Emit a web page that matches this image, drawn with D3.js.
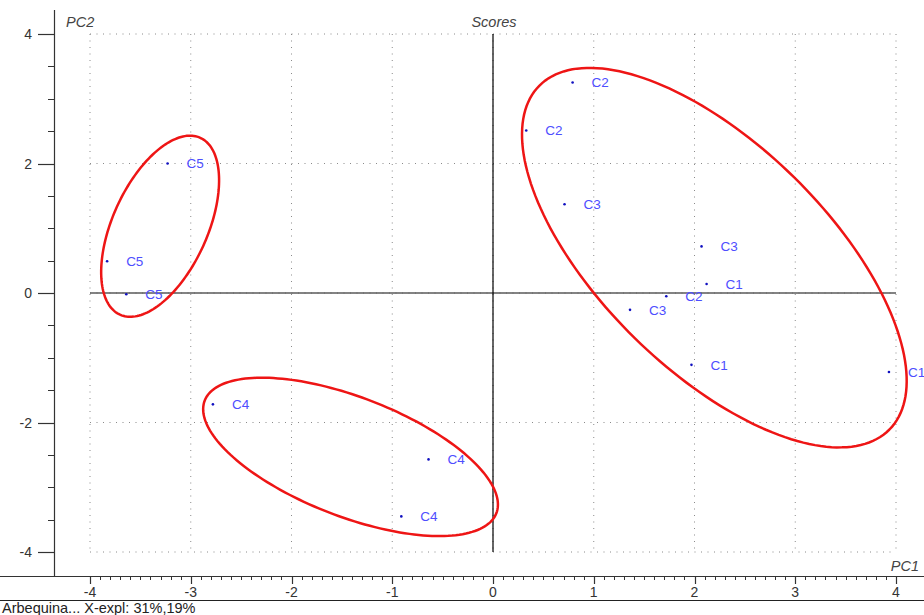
<!DOCTYPE html>
<html>
<head>
<meta charset="utf-8">
<script src="https://cdn.jsdelivr.net/npm/d3@7"></script>
<style>
  body { margin: 0; background: #fff; }
  svg { display: block; font-family: "Liberation Sans", Arial, sans-serif; }
</style>
</head>
<body>
<div id="chart"></div>
<script>
// score points (PC1, PC2) and their class labels
const pointLabels = ['C2', 'C2', 'C3', 'C3', 'C1', 'C2', 'C3', 'C1', 'C1', 'C5', 'C5', 'C5', 'C4', 'C4', 'C4'];
const pc1Values = [0.79, 0.33, 0.71, 2.07, 2.12, 1.72, 1.36, 1.97, 3.93, -3.23, -3.83, -3.64, -2.78, -0.64, -0.91];
const pc2Values = [3.25, 2.51, 1.37, 0.72, 0.14, -0.05, -0.26, -1.11, -1.22, 2.0, 0.49, -0.02, -1.72, -2.57, -3.45];

// group ellipses: centre, and the two half-axis vectors, all in PC units
const ellipseCenters = [[2.197, 0.546], [-3.304, 1.031], [-1.414, -2.531]];
const ellipseMajor = [[1.738, -2.654], [0.398, 1.366], [1.447, -0.871]];
const ellipseMinor = [[-0.790, -1.243], [0.429, -0.300], [-0.215, -0.858]];

const xTicks = [-4, -3, -2, -1, 0, 1, 2, 3, 4];
const yTicks = [-4, -2, 0, 2, 4];

const width = 924, height = 615;

const svg = d3.select('#chart').append('svg')
  .attr('width', width)
  .attr('height', height);

const x = d3.scaleLinear().domain([-4, 4]).range([90, 896]);
const y = d3.scaleLinear().domain([-4, 4]).range([552, 34]);

const gridColor = '#8a8a8a';
const axisColor = '#333';

// dotted grid
svg.append('g').selectAll('line').data(xTicks)
  .join('line')
  .attr('x1', d => x(d)).attr('x2', d => x(d))
  .attr('y1', y(4)).attr('y2', y(-4))
  .attr('stroke', gridColor).attr('stroke-width', 1)
  .attr('stroke-dasharray', '1,5.5');
svg.append('g').selectAll('line').data(yTicks)
  .join('line')
  .attr('x1', x(-4)).attr('x2', x(4))
  .attr('y1', d => y(d)).attr('y2', d => y(d))
  .attr('stroke', gridColor).attr('stroke-width', 1)
  .attr('stroke-dasharray', '1,5.5');

// zero lines
svg.append('line')
  .attr('x1', x(-4)).attr('x2', x(4)).attr('y1', y(0)).attr('y2', y(0))
  .attr('stroke', '#5a5a5a').attr('stroke-width', 1.6);
svg.append('line')
  .attr('x1', x(0)).attr('x2', x(0)).attr('y1', y(4)).attr('y2', y(-4))
  .attr('stroke', '#000').attr('stroke-width', 1.2);

// axes frame
const axisY = 576, axisX = 54;
svg.append('line')
  .attr('x1', 0).attr('x2', width).attr('y1', axisY + 0.5).attr('y2', axisY + 0.5)
  .attr('stroke', axisColor).attr('stroke-width', 1.2);
svg.append('line')
  .attr('x1', 0).attr('x2', width).attr('y1', 600.5).attr('y2', 600.5)
  .attr('stroke', '#222').attr('stroke-width', 1.2);
svg.append('line')
  .attr('x1', axisX + 0.5).attr('x2', axisX + 0.5).attr('y1', 10).attr('y2', axisY)
  .attr('stroke', axisColor).attr('stroke-width', 1.2);

// x axis ticks
const xAxis = svg.append('g');
xAxis.selectAll('line.minor').data(d3.range(-40, 41).map(d => d / 10))
  .join('line').attr('class', 'minor')
  .attr('x1', d => Math.round(x(d)) + 0.5).attr('x2', d => Math.round(x(d)) + 0.5)
  .attr('y1', axisY).attr('y2', axisY + 4)
  .attr('stroke', axisColor);
xAxis.selectAll('line.major').data(xTicks)
  .join('line').attr('class', 'major')
  .attr('x1', d => Math.round(x(d)) + 0.5).attr('x2', d => Math.round(x(d)) + 0.5)
  .attr('y1', axisY).attr('y2', axisY + 8)
  .attr('stroke', axisColor).attr('stroke-width', 1.2);
xAxis.selectAll('text').data(xTicks)
  .join('text')
  .attr('x', d => x(d)).attr('y', 597)
  .attr('text-anchor', 'middle')
  .attr('font-size', 14).attr('fill', axisColor)
  .text(d => d);

// y axis ticks
const yAxis = svg.append('g');
yAxis.selectAll('line.minor').data(d3.range(-8, 9).map(d => d / 2))
  .join('line').attr('class', 'minor')
  .attr('x1', axisX - 6).attr('x2', axisX)
  .attr('y1', d => Math.round(y(d)) + 0.5).attr('y2', d => Math.round(y(d)) + 0.5)
  .attr('stroke', axisColor);
yAxis.selectAll('line.major').data(yTicks)
  .join('line').attr('class', 'major')
  .attr('x1', axisX - 16).attr('x2', axisX)
  .attr('y1', d => Math.round(y(d)) + 0.5).attr('y2', d => Math.round(y(d)) + 0.5)
  .attr('stroke', axisColor).attr('stroke-width', 1.2);
yAxis.selectAll('text').data(yTicks)
  .join('text')
  .attr('x', 32).attr('y', d => y(d))
  .attr('dy', '0.36em')
  .attr('text-anchor', 'end')
  .attr('font-size', 14).attr('fill', axisColor)
  .text(d => d);

// titles
svg.append('text').attr('x', 66).attr('y', 27)
  .attr('font-size', 14.5).attr('font-style', 'italic').attr('fill', '#444')
  .text('PC2');
svg.append('text').attr('x', x(0) + 1).attr('y', 27)
  .attr('text-anchor', 'middle')
  .attr('font-size', 14.5).attr('font-style', 'italic').attr('fill', '#444')
  .text('Scores');
svg.append('text').attr('x', 919).attr('y', 571)
  .attr('text-anchor', 'end')
  .attr('font-size', 14.5).attr('font-style', 'italic').attr('fill', '#444')
  .text('PC1');
svg.append('text').attr('x', 2).attr('y', 613)
  .attr('font-size', 14.5).attr('fill', '#222')
  .text('Arbequina... X-expl: 31%,19%');

// ellipses
const ellipseLine = d3.line().curve(d3.curveLinearClosed);
ellipseCenters.forEach((c, i) => {
  const a = ellipseMajor[i], b = ellipseMinor[i];
  const pts = d3.range(0, 360, 2).map(deg => {
    const t = deg * Math.PI / 180;
    return [
      x(c[0] + a[0] * Math.cos(t) + b[0] * Math.sin(t)),
      y(c[1] + a[1] * Math.cos(t) + b[1] * Math.sin(t))
    ];
  });
  svg.append('path')
    .attr('d', ellipseLine(pts))
    .attr('fill', 'none')
    .attr('stroke', '#ee1515')
    .attr('stroke-width', 2.5);
});

// points + labels
const points = pointLabels.map((label, i) => ({ label, pc1: pc1Values[i], pc2: pc2Values[i] }));
const pg = svg.append('g');
pg.selectAll('circle').data(points)
  .join('circle')
  .attr('cx', d => x(d.pc1)).attr('cy', d => y(d.pc2))
  .attr('r', 1.3)
  .attr('fill', '#1010c0');
pg.selectAll('text').data(points)
  .join('text')
  .attr('x', d => x(d.pc1) + 19).attr('y', d => y(d.pc2))
  .attr('dy', '0.36em')
  .attr('font-size', 13.5)
  .attr('fill', '#4e4eff')
  .text(d => d.label);
</script>
</body>
</html>
